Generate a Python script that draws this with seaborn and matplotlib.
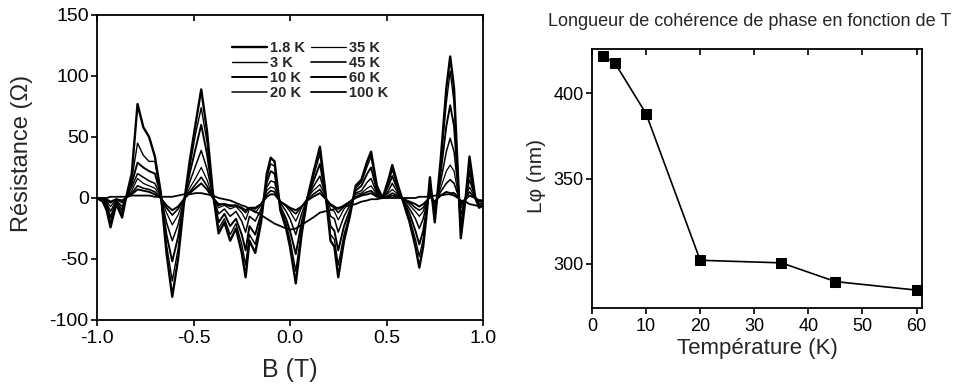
import numpy as np
import pandas as pd
import matplotlib
matplotlib.use("Agg")
import matplotlib.pyplot as plt
import seaborn as sns

# ---------------- data ----------------
B = [-1.00, -0.97, -0.95, -0.93, -0.90, -0.87, -0.85, -0.82, -0.79, -0.76,
     -0.73, -0.70, -0.67, -0.64, -0.61, -0.58, -0.55, -0.52, -0.49, -0.46,
     -0.43, -0.40, -0.37, -0.34, -0.31, -0.28, -0.25, -0.23, -0.21, -0.18,
     -0.15, -0.12, -0.10, -0.08, -0.05, -0.02, 0.00, 0.03, 0.06, 0.09,
     0.12, 0.155, 0.18, 0.21, 0.23, 0.25, 0.28, 0.31, 0.34, 0.37,
     0.40, 0.42, 0.45, 0.48, 0.51, 0.53, 0.56, 0.59, 0.62, 0.65,
     0.67, 0.69, 0.71, 0.725, 0.75, 0.78, 0.81, 0.83, 0.85, 0.87,
     0.885, 0.91, 0.93, 0.96, 0.98, 1.00]

R_1p8K = [0, -3, -10, -24, -5, -16, 0, 20, 77, 58,
          50, 34, 5, -45, -81, -50, -5, 30, 60, 89,
          55, 5, -29, -20, -35, -25, -45, -65, -35, -45,
          -20, 20, 33, 30, -10, -25, -40, -70, -30, 0,
          20, 42, 10, -35, -40, -65, -35, -15, 10, 15,
          30, 38, 10, 0, 15, 27, 10, -5, -20, -40,
          -57, -40, -10, 17, -20, 30, 90, 116, 90, 20,
          -33, 0, 34, 0, -8, -6]
R_3K = [0, -2, -8, -20, -4, -13, 0, 15, 45, 35,
        30, 30, 0, -38, -68, -42, -4, 25, 52, 74,
        46, 4, -25, -17, -30, -21, -38, -55, -30, -38,
        -17, 17, 28, 26, -8, -21, -34, -60, -26, 0,
        17, 36, 8, -30, -34, -55, -30, -13, 8, 13,
        26, 34, 8, 0, 13, 23, 8, -4, -17, -34,
        -48, -34, -8, 14, -17, 26, 78, 104, 78, 17,
        -28, 0, 29, 0, -7, -5]
R_10K = [0, -2, -6, -16, -3, -10, 0, 12, 29, 25,
         22, 20, 3, -30, -52, -32, -3, 20, 40, 60,
         36, 3, -20, -13, -23, -17, -30, -43, -23, -30,
         -13, 13, 22, 20, -7, -17, -27, -46, -20, 0,
         13, 28, 6, -23, -27, -43, -23, -10, 6, 10,
         20, 25, 6, 0, 10, 18, 6, -3, -13, -27,
         -38, -27, -7, 11, -13, 20, 59, 76, 59, 13,
         -22, 0, 22, 0, -5, -4]
R_20K = [0, -1, -4, -11, -2, -7, 0, 9, 20, 17,
         14, 12, 2, -20, -35, -22, -2, 13, 26, 39,
         24, 2, -13, -9, -15, -11, -19, -28, -15, -19,
         -9, 9, 14, 13, -4, -11, -17, -30, -13, 0,
         9, 18, 4, -15, -17, -28, -15, -6, 4, 6,
         13, 16, 4, 0, 6, 12, 4, -2, -9, -17,
         -25, -17, -4, 7, -9, 13, 38, 49, 38, 9,
         -14, 0, 15, 0, -3, -3]
R_35K = [0, -1, -3, -7, -1, -4, 0, 6, 16, 12,
         10, 8, 1, -12, -22, -14, -1, 8, 16, 25,
         15, 1, -8, -6, -9, -7, -12, -18, -9, -12,
         -6, 6, 9, 8, -3, -7, -11, -19, -8, 0,
         6, 11, 3, -9, -11, -18, -9, -4, 3, 4,
         8, 10, 3, 0, 4, 7, 3, -1, -6, -11,
         -15, -11, -3, 5, -5, 8, 22, 27, 22, 5,
         -9, 0, 9, 0, -2, -2]
R_45K = [0, 0, -2, -4, -1, -3, 0, 4, 10, 8,
         7, 5, 0, -8, -14, -9, -1, 5, 11, 17,
         10, 1, -6, -5, -7, -6, -9, -12, -8, -9,
         -5, 3, 6, 5, -3, -6, -9, -13, -7, -1,
         3, 7, 1, -6, -8, -12, -7, -3, 1, 3,
         5, 6, 2, 0, 2, 4, 2, -1, -4, -8,
         -10, -8, -3, 2, -4, 5, 12, 15, 12, 3,
         -6, 0, 5, 0, -2, -2]
R_60K = [0, 0, -1, -3, -1, -2, 0, 3, 7, 6,
         5, 3, 0, -6, -10, -7, -1, 4, 8, 12,
         7, 0, -5, -5, -6, -6, -8, -10, -8, -8,
         -5, 1, 3, 3, -3, -6, -8, -10, -7, -2,
         1, 4, 0, -5, -7, -9, -6, -3, 0, 2,
         3, 4, 1, 0, 1, 2, 1, -1, -3, -5,
         -7, -5, -2, 1, -3, 2, 5, 4, 4, 1,
         -4, -1, 2, 0, -2, -2]
R_100K = [0, 0, 0, 1, 1, 1, 1, 2, 2, 2,
          2, 1, 1, 1, 1, 2, 3, 3, 4, 4,
          3, 2, 0, -1, -2, -4, -6, -7, -9, -11,
          -14, -17, -19, -21, -23, -25, -26, -25, -22, -19,
          -16, -12, -11, -10, -9, -8, -7, -6, -5, -3,
          -2, -1, -1, 0, 0, 0, 0, 0, 0, 0,
          1, 1, 1, 1, 2, 2, 3, 3, 2, 0,
          -2, -3, -5, -6, -7, -6]

curve_labels = ["1.8 K", "3 K", "10 K", "20 K", "35 K", "45 K", "60 K", "100 K"]
curves = [R_1p8K, R_3K, R_10K, R_20K, R_35K, R_45K, R_60K, R_100K]

T_K = [2, 4.2, 10, 20, 35, 45, 60]
L_phi = [422, 418, 388, 302, 300.5, 289.5, 284.5]

left_xticks = [-1.0, -0.5, 0.0, 0.5, 1.0]
left_xticklabels = ["-1.0", "-0.5", "0.0", "0.5", "1.0"]
left_yticks = [-100, -50, 0, 50, 100, 150]
right_xticks = [0, 10, 20, 30, 40, 50, 60]
right_yticks = [300, 350, 400]

# ---------------- style ----------------
sns.set_style("ticks")
plt.rcParams['font.family'] = ['Liberation Sans', 'DejaVu Sans']
plt.rcParams['axes.linewidth'] = 1.2
plt.rcParams['axes.unicode_minus'] = False

fig = plt.figure(figsize=(9.64, 3.86), dpi=100)
W, H = 964, 386
axL = fig.add_axes([97 / W, 1 - 320 / H, 386 / W, 305 / H])
axR = fig.add_axes([592 / W, 1 - 308 / H, 330 / W, 259 / H])

widths = [1.7, 1.0, 1.4, 1.1, 0.9, 1.2, 1.4, 1.3]
for lab, vals, lw in zip(curve_labels, curves, widths):
    df = pd.DataFrame({"B": B, "R": vals})
    sns.lineplot(data=df, x="B", y="R", ax=axL, color="black", lw=lw,
                 label=lab, sort=False)

axL.set_xlim(-1.0, 1.0)
axL.set_ylim(-100, 150)
axL.set_xticks(left_xticks)
axL.set_xticklabels(left_xticklabels)
axL.set_yticks(left_yticks)
axL.tick_params(axis='both', which='major', labelsize=14, direction='out',
                length=4, width=1.2, pad=2, colors='black')
axL.tick_params(axis='x', pad=3)
axL.tick_params(axis='x', which='major', top=True, bottom=True)
axL.set_xlabel("B (T)", fontsize=18)
axL.set_ylabel("Résistance (Ω)", fontsize=17)
axL.xaxis.set_label_coords(0.5, -0.125)
axL.yaxis.set_label_coords(-0.165, 0.545)

leg = axL.legend(ncol=2, loc='upper left', bbox_to_anchor=(0.35, 0.915),
                 frameon=False, fontsize=10.5, handlelength=2.4,
                 handletextpad=0.2, columnspacing=0.4, labelspacing=0.08,
                 borderpad=0, borderaxespad=0)
for txt in leg.get_texts():
    txt.set_fontweight('bold')

# right panel
dfR = pd.DataFrame({"T": T_K, "L": L_phi})
sns.lineplot(data=dfR, x="T", y="L", ax=axR, color="black", lw=1.2,
             marker='s', markersize=7.5, markeredgecolor='black',
             markerfacecolor='black')
axR.set_xlim(0, 61)
axR.set_ylim(274, 426)
axR.set_xticks(right_xticks)
axR.set_yticks(right_yticks)
axR.tick_params(axis='both', which='major', labelsize=13, direction='out',
                length=4, width=1.2, pad=2, colors='black')
axR.tick_params(axis='x', top=True, pad=3)
axR.set_xlabel("Température (K)", fontsize=16)
axR.set_ylabel("Lφ (nm)", fontsize=15)
axR.xaxis.set_label_coords(0.5, -0.115)
axR.yaxis.set_label_coords(-0.14, 0.51)

fig.text(750 / W, 1 - 21 / H, "Longueur de cohérence de phase en fonction de T",
         ha='center', va='center', fontsize=13)

for ax in (axL, axR):
    for s in ax.spines.values():
        s.set_visible(True)
        s.set_color('black')
        s.set_linewidth(1.3)
    # top ticks point inward
    for t in ax.xaxis.get_major_ticks():
        t.tick2line.set_marker(matplotlib.lines.TICKDOWN)

fig.savefig("out.png", dpi=100, facecolor='white')
